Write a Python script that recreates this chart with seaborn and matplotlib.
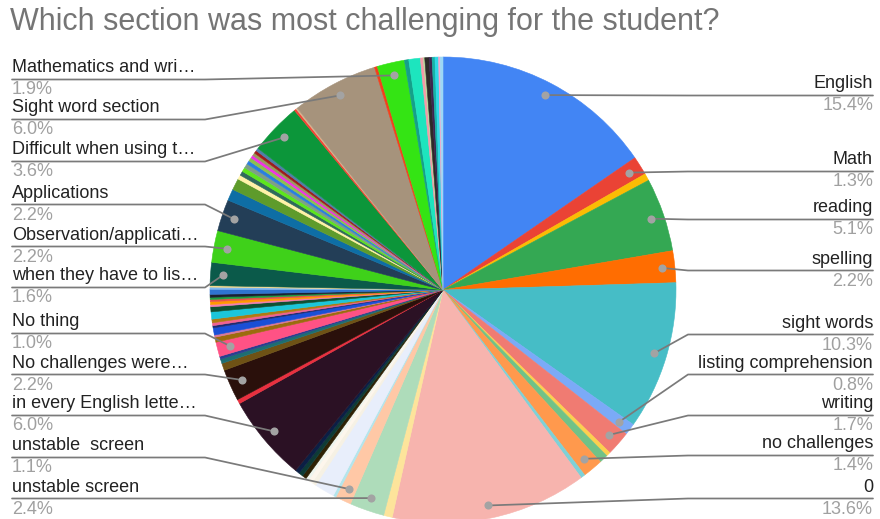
import numpy as np
import matplotlib
matplotlib.use("Agg")
import matplotlib.pyplot as plt
import seaborn as sns

# Survey answers, clockwise from 12 o'clock ("" = answer too small to be labelled)
labels = [
    "English", "Math", "", "reading", "spelling", "sight words",
    "listing comprehension", "writing", "", "", "no challenges", "", "0",
    "", "unstable screen", "unstable  screen", "", "", "", "", "", "", "", "",
    "in every English lette\u2026", "", "No challenges were\u2026", "", "", "",
    "No thing", "", "", "", "", "", "", "", "", "", "", "", "", "", "", "", "",
    "when they have to lis\u2026", "Observation/applicati\u2026", "Applications",
    "", "", "", "", "", "", "", "", "", "", "", "",
    "Difficult when using t\u2026", "", "", "Sight word section", "",
    "Mathematics and wri\u2026", "", "", "", "", "", "", "", "", "", "",
]

# Share of answers (%)
values = [
    15.4, 1.3, 0.5, 5.1, 2.2, 10.3,
    0.8, 1.7, 0.3, 0.6, 1.4, 0.3, 13.6,
    0.6, 2.4, 1.1, 0.2, 1.4, 0.3, 0.3, 0.2, 0.3, 0.3, 0.3,
    6.0, 0.3, 2.2, 0.5, 0.3, 0.2,
    1.0, 0.35, 0.15, 0.5, 0.15, 0.2, 0.25, 0.5, 0.35, 0.15, 0.2, 0.15, 0.15, 0.2, 0.35, 0.15, 0.1,
    1.6, 2.2, 2.2,
    0.8, 0.8, 0.3, 0.3, 0.3, 0.3, 0.25, 0.25, 0.2, 0.2, 0.2, 0.2,
    3.6, 0.15, 0.1, 6.0, 0.2,
    1.9, 0.3, 0.8, 0.2, 0.1, 0.3, 0.2, 0.2, 0.25, 0.1, 0.2,
]

colors = [
    "#4285F4", "#EA4335", "#FBBC04", "#34A853", "#FF6D01", "#46BDC6",
    "#7BAAF7", "#F07B72", "#FCD04F", "#71C287", "#FF994D", "#7ED1D7", "#F7B4AE",
    "#FDE49B", "#AEDCBA", "#FFC8A6", "#B3E5EC", "#E8EEFB", "#F6F1E4", "#FDF6EC",
    "#EEF5EE", "#2E2205", "#0E3B36", "#0B1F45",
    "#2B1124", "#E8303F", "#2A100B", "#6E5215", "#1D6E72", "#2A3F8F",
    "#FF5285", "#9C6B0E", "#D9789A", "#1A4FD6", "#1E2A6E", "#F06292", "#B07A12",
    "#1CC6D9", "#0F5132", "#F47FB0", "#FF9800", "#E6534A", "#1E9E3E", "#1B2030",
    "#2F74D0", "#7FB8F0", "#F5DA8A",
    "#0B5A4A", "#3FD11A", "#233E57",
    "#0E6EA5", "#5E9B2B", "#FFF2A8", "#2F6B5C", "#5DE61C", "#7E9F86", "#2A7FE0",
    "#8CC04F", "#F032E6", "#9A9A5A", "#9E1B1B", "#4F7FA8",
    "#0C963A", "#F44336", "#D9B38C", "#A6937C", "#F2401D",
    "#34E414", "#15A08A", "#1DE5BE", "#F49AA8", "#B8D89A", "#2E2A28", "#3D2550",
    "#16B3A8", "#2FD8E8", "#FFA0C8", "#9CD8F5",
]

title = "Which section was most challenging for the student?"

# Callout layout: side of the chart and vertical position (px from top) of each name row
callouts = {
    "English": ("right", 84), "Math": ("right", 160), "reading": ("right", 208),
    "spelling": ("right", 259), "sight words": ("right", 323),
    "listing comprehension": ("right", 363), "writing": ("right", 404),
    "no challenges": ("right", 444), "0": ("right", 487),
    "Mathematics and wri\u2026": ("left", 68), "Sight word section": ("left", 108),
    "Difficult when using t\u2026": ("left", 150), "Applications": ("left", 193),
    "Observation/applicati\u2026": ("left", 235), "when they have to lis\u2026": ("left", 276),
    "No thing": ("left", 322), "No challenges were\u2026": ("left", 363),
    "in every English lette\u2026": ("left", 404), "unstable  screen": ("left", 446),
    "unstable screen": ("left", 487),
}

sns.set_theme(style="white")
plt.rcParams["font.family"] = ["Liberation Sans", "DejaVu Sans"]

W, H = 880, 519
fig = plt.figure(figsize=(W / 100, H / 100), dpi=100)
ax = fig.add_axes([0, 0, 1, 1])


def py(y):
    """Pixel row (from top) to axis y."""
    return H - y


cx, cy, R = 443, py(290), 233
wedges, _ = ax.pie(values, colors=colors, startangle=90, counterclock=False,
                   center=(cx, cy), radius=R, frame=True,
                   wedgeprops=dict(linewidth=0.4))
for w, c in zip(wedges, colors):
    w.set_edgecolor(c)

ax.set_xlim(0, W)
ax.set_ylim(0, H)
ax.set_aspect("auto")
ax.axis("off")

total = sum(values)
cum = np.cumsum([0] + values[:-1])
line_col = "#7A7A7A"
for lab, v, start in zip(labels, values, cum):
    if not lab:
        continue
    side, ny = callouts[lab]
    mid = np.deg2rad(90 - 360 * (start + v / 2) / total)
    dx, dy = cx + 0.945 * R * np.cos(mid), cy + 0.945 * R * np.sin(mid)
    ly = ny + 11.5
    if side == "right":
        tx, ha, elbow = 873, "right", 688
    else:
        tx, ha, elbow = 12, "left", 205
    ax.plot([tx, elbow, dx], [py(ly), py(ly), dy], color=line_col, lw=1.25,
            solid_joinstyle="round", zorder=3)
    ax.scatter([dx], [dy], s=34, color="#A3A3A3", zorder=4, linewidths=0)
    ax.text(tx, py(ny), lab, ha=ha, va="center", fontsize=13, color="#222222")
    ax.text(tx, py(ny + 22), f"{v / total * 100:.1f}%", ha=ha, va="center",
            fontsize=13, color="#A0A0A0")

ax.text(10, py(22), title, ha="left", va="center", fontsize=22, color="#757575")

fig.savefig("out.png", dpi=100)
